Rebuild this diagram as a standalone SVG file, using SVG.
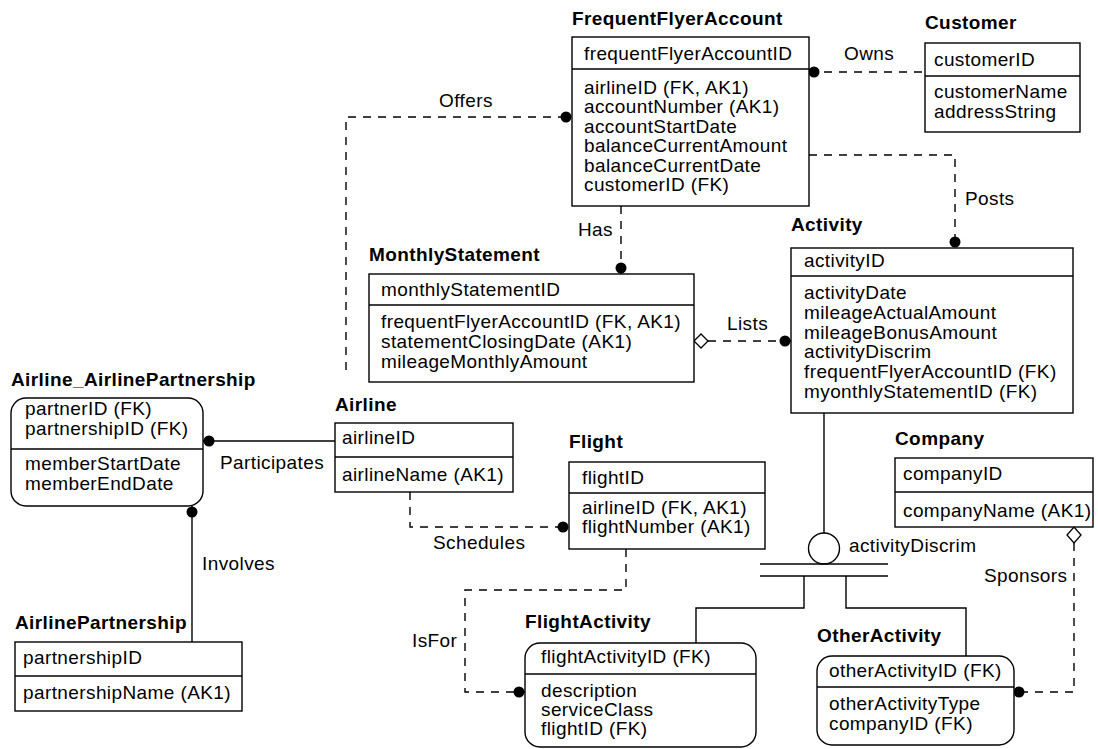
<svg xmlns="http://www.w3.org/2000/svg" width="1098" height="749" viewBox="0 0 1098 749">
<style>
.bx{fill:#fff;stroke:#000;stroke-width:1.4}
.dv{stroke:#000;stroke-width:1.4}
.t{font-family:"Liberation Sans",Arial,sans-serif;font-size:19px;letter-spacing:0.4px;fill:#000}
.b{font-weight:bold}
.ln{fill:none;stroke:#000;stroke-width:1.4}
.ds{stroke-dasharray:8 7}
.dot{fill:#000}
.dia{fill:#fff;stroke:#000;stroke-width:1.3}
</style>
<rect width="1098" height="749" fill="#fff"/>
<g id="connectors">
  <line class="ln ds" x1="809" y1="72" x2="925" y2="72"/>
  <circle class="dot" cx="814" cy="72" r="5.5"/>
  <text class="t" x="844" y="60">Owns</text>
  <polyline class="ln ds" points="566,117 346,117 346,375"/>
  <circle class="dot" cx="566" cy="117" r="5.5"/>
  <text class="t" x="439" y="107">Offers</text>
  <polyline class="ln ds" points="809,155 955,155 955,248"/>
  <circle class="dot" cx="955" cy="242" r="5.5"/>
  <text class="t" x="965" y="205">Posts</text>
  <line class="ln ds" x1="621" y1="206" x2="621" y2="274"/>
  <circle class="dot" cx="621" cy="268" r="5.5"/>
  <text class="t" x="578" y="236">Has</text>
  <line class="ln ds" x1="708" y1="341" x2="791" y2="341"/>
  <polygon class="dia" points="694,341 701,334 708,341 701,348"/>
  <circle class="dot" cx="785" cy="341" r="5.5"/>
  <text class="t" x="727" y="330">Lists</text>
  <line class="ln" x1="203" y1="441" x2="335" y2="441"/>
  <circle class="dot" cx="209" cy="441" r="5.5"/>
  <text class="t" x="220" y="469">Participates</text>
  <line class="ln" x1="192" y1="506" x2="192" y2="642"/>
  <circle class="dot" cx="192" cy="512" r="5.5"/>
  <text class="t" x="202" y="570">Involves</text>
  <polyline class="ln ds" points="410,492 410,527 569,527"/>
  <circle class="dot" cx="563" cy="527" r="5.5"/>
  <text class="t" x="433" y="549">Schedules</text>
  <polyline class="ln ds" points="626,549 626,590 465,590 465,692 525,692"/>
  <circle class="dot" cx="519" cy="692" r="5.5"/>
  <text class="t" x="412" y="647">IsFor</text>
  <line class="ln" x1="824" y1="413" x2="824" y2="533"/>
  <circle class="ln" cx="824" cy="548.5" r="15.5"/>
  <line class="ln" x1="760" y1="564" x2="888" y2="564"/>
  <line class="ln" x1="760" y1="576" x2="888" y2="576"/>
  <polyline class="ln" points="804,576 804,608 696,608 696,643"/>
  <polyline class="ln" points="846,576 846,608 966,608 966,656"/>
  <text class="t" x="849" y="552">activityDiscrim</text>
  <polyline class="ln ds" points="1074,543 1074,692 1014,692"/>
  <polygon class="dia" points="1074,527 1081,535 1074,543 1067,535"/>
  <circle class="dot" cx="1019" cy="692" r="5.5"/>
  <text class="t" x="984" y="582">Sponsors</text>
</g>
<g id="FrequentFlyerAccount">
  <text class="t b" x="572" y="25">FrequentFlyerAccount</text>
  <rect class="bx" x="572" y="37" width="237" height="169"/>
  <line class="dv" x1="572" y1="69" x2="809" y2="69"/>
  <text class="t" x="584" y="60">frequentFlyerAccountID</text>
  <text class="t"><tspan x="584" y="93.5">airlineID (FK, AK1)</tspan><tspan x="584" y="113">accountNumber (AK1)</tspan><tspan x="584" y="132.5">accountStartDate</tspan><tspan x="584" y="152">balanceCurrentAmount</tspan><tspan x="584" y="171.5">balanceCurrentDate</tspan><tspan x="584" y="191">customerID (FK)</tspan></text>
</g>
<g id="Customer">
  <text class="t b" x="925" y="29">Customer</text>
  <rect class="bx" x="925" y="43" width="155" height="89"/>
  <line class="dv" x1="925" y1="76" x2="1080" y2="76"/>
  <text class="t" x="934" y="66">customerID</text>
  <text class="t"><tspan x="934" y="98">customerName</tspan><tspan x="934" y="118">addressString</tspan></text>
</g>
<g id="Activity">
  <text class="t b" x="791" y="231">Activity</text>
  <rect class="bx" x="791" y="248" width="282" height="165"/>
  <line class="dv" x1="791" y1="276" x2="1073" y2="276"/>
  <text class="t" x="804" y="267">activityID</text>
  <text class="t"><tspan x="804" y="299">activityDate</tspan><tspan x="804" y="318.8">mileageActualAmount</tspan><tspan x="804" y="338.6">mileageBonusAmount</tspan><tspan x="804" y="358.4">activityDiscrim</tspan><tspan x="804" y="378.2">frequentFlyerAccountID (FK)</tspan><tspan x="804" y="398">myonthlyStatementID (FK)</tspan></text>
</g>
<g id="MonthlyStatement">
  <text class="t b" x="369" y="261">MonthlyStatement</text>
  <rect class="bx" x="369" y="274" width="325" height="108"/>
  <line class="dv" x1="369" y1="305" x2="694" y2="305"/>
  <text class="t" x="381" y="296">monthlyStatementID</text>
  <text class="t"><tspan x="381" y="328">frequentFlyerAccountID (FK, AK1)</tspan><tspan x="381" y="348">statementClosingDate (AK1)</tspan><tspan x="381" y="368">mileageMonthlyAmount</tspan></text>
</g>
<g id="Airline_AirlinePartnership">
  <text class="t b" x="11" y="386">Airline_AirlinePartnership</text>
  <rect class="bx" x="11" y="398" width="192" height="108" rx="15" ry="15"/>
  <line class="dv" x1="11" y1="449" x2="203" y2="449"/>
  <text class="t"><tspan x="25" y="415">partnerID (FK)</tspan><tspan x="25" y="435">partnershipID (FK)</tspan></text>
  <text class="t"><tspan x="25" y="470">memberStartDate</tspan><tspan x="25" y="490">memberEndDate</tspan></text>
</g>
<g id="Airline">
  <text class="t b" x="335" y="411">Airline</text>
  <rect class="bx" x="335" y="423" width="178" height="69"/>
  <line class="dv" x1="335" y1="457" x2="513" y2="457"/>
  <text class="t" x="342" y="444">airlineID</text>
  <text class="t" x="342" y="481">airlineName (AK1)</text>
</g>
<g id="Flight">
  <text class="t b" x="569" y="448">Flight</text>
  <rect class="bx" x="569" y="462" width="196" height="87"/>
  <line class="dv" x1="569" y1="493" x2="765" y2="493"/>
  <text class="t" x="582" y="484">flightID</text>
  <text class="t"><tspan x="582" y="514">airlineID (FK, AK1)</tspan><tspan x="582" y="533">flightNumber (AK1)</tspan></text>
</g>
<g id="Company">
  <text class="t b" x="895" y="445">Company</text>
  <rect class="bx" x="895" y="458" width="198" height="69"/>
  <line class="dv" x1="895" y1="492" x2="1093" y2="492"/>
  <text class="t" x="903" y="480">companyID</text>
  <text class="t" x="903" y="517">companyName (AK1)</text>
</g>
<g id="AirlinePartnership">
  <text class="t b" x="15" y="629">AirlinePartnership</text>
  <rect class="bx" x="15" y="642" width="227" height="69"/>
  <line class="dv" x1="15" y1="676" x2="242" y2="676"/>
  <text class="t" x="23" y="664">partnershipID</text>
  <text class="t" x="23" y="699">partnershipName (AK1)</text>
</g>
<g id="FlightActivity">
  <text class="t b" x="525" y="628">FlightActivity</text>
  <rect class="bx" x="525" y="643" width="231" height="104" rx="15" ry="15"/>
  <line class="dv" x1="525" y1="674" x2="756" y2="674"/>
  <text class="t" x="541" y="663">flightActivityID (FK)</text>
  <text class="t"><tspan x="541" y="697">description</tspan><tspan x="541" y="716">serviceClass</tspan><tspan x="541" y="735">flightID (FK)</tspan></text>
</g>
<g id="OtherActivity">
  <text class="t b" x="817" y="642">OtherActivity</text>
  <rect class="bx" x="817" y="656" width="197" height="89" rx="15" ry="15"/>
  <line class="dv" x1="817" y1="687" x2="1014" y2="687"/>
  <text class="t" x="829" y="677">otherActivityID (FK)</text>
  <text class="t"><tspan x="829" y="710">otherActivityType</tspan><tspan x="829" y="730">companyID (FK)</tspan></text>
</g>
</svg>
